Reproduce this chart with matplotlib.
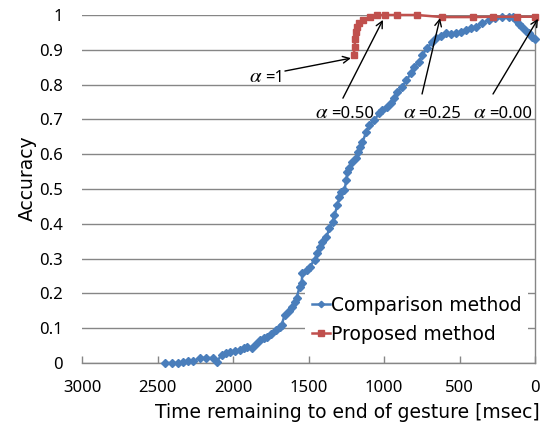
import matplotlib
matplotlib.use("Agg")
import matplotlib.pyplot as plt

plt.rcParams['font.family'] = ['DejaVu Sans']
plt.rcParams['mathtext.fontset'] = 'stix'

# Comparison method: accuracy vs. time remaining [msec]
comparison_time = [2452, 2405, 2366, 2333, 2300, 2267, 2220, 2181, 2134, 2108,
                   2075, 2049, 2022, 1989, 1956, 1930, 1910, 1877, 1850, 1824,
                   1797, 1778, 1751, 1718, 1692, 1678, 1658, 1632, 1612, 1592,
                   1579, 1559, 1546, 1540, 1513, 1493, 1460, 1441, 1427, 1408,
                   1381, 1361, 1341, 1328, 1308, 1295, 1282, 1262, 1249, 1242,
                   1229, 1209, 1183, 1170, 1156, 1143, 1117, 1097, 1064, 1031,
                   1011, 978, 952, 932, 912, 879, 852, 819, 800, 767,
                   747, 714, 681, 654, 621, 588, 555, 522, 489, 456,
                   423, 390, 350, 304, 264, 218, 172, 145, 126, 106,
                   86, 59, 40, 20, 0]
comparison_acc = [0.000, 0.000, 0.000, 0.003, 0.005, 0.005, 0.014, 0.015, 0.014, 0.004,
                  0.023, 0.028, 0.032, 0.035, 0.038, 0.043, 0.046, 0.044, 0.055, 0.066,
                  0.071, 0.075, 0.083, 0.095, 0.104, 0.109, 0.138, 0.150, 0.161, 0.175,
                  0.187, 0.218, 0.230, 0.258, 0.268, 0.276, 0.296, 0.316, 0.333, 0.348,
                  0.362, 0.388, 0.405, 0.425, 0.454, 0.477, 0.491, 0.497, 0.526, 0.549,
                  0.560, 0.578, 0.589, 0.606, 0.620, 0.635, 0.664, 0.684, 0.698, 0.718,
                  0.727, 0.736, 0.747, 0.761, 0.779, 0.793, 0.813, 0.833, 0.851, 0.865,
                  0.885, 0.905, 0.922, 0.934, 0.940, 0.948, 0.946, 0.948, 0.952, 0.957,
                  0.962, 0.966, 0.977, 0.986, 0.991, 0.994, 0.995, 0.993, 0.986, 0.975,
                  0.966, 0.955, 0.948, 0.938, 0.930]

# Proposed method
proposed_time = [1200, 1195, 1190, 1185, 1178, 1165, 1140, 1095, 1045, 995,
                 915, 780, 615, 410, 280, 120, 0]
proposed_acc = [0.885, 0.908, 0.932, 0.951, 0.966, 0.977, 0.986, 0.994, 0.999, 1.000,
                1.000, 1.000, 0.994, 0.994, 0.995, 0.995, 0.995]

y_ticks = [0, 0.1, 0.2, 0.3, 0.4, 0.5, 0.6, 0.7, 0.8, 0.9, 1]
y_tick_labels = ['0', '0.1', '0.2', '0.3', '0.4', '0.5', '0.6', '0.7', '0.8', '0.9', '1']
x_ticks = [3000, 2500, 2000, 1500, 1000, 500, 0]

# alpha annotations: value text, anchor (between symbol and value), arrow tail, arrow tip
alpha_values = ['=1', '=0.50', '=0.25', '=0.00']
alpha_anchor = [(1795, 0.8075), (1358, 0.704), (778, 0.704), (311, 0.704)]
alpha_tail = [(1656, 0.839), (1272, 0.761), (748, 0.773), (278, 0.773)]
alpha_tip = [(1219, 0.876), (1007, 0.986), (629, 0.991), (-20, 0.989)]

BLUE = '#4A7EBB'
RED = '#C0504D'
GRID = '#868686'
TICK_FONT = ['Noto Sans', 'DejaVu Sans']

fig = plt.figure(figsize=(5.49, 4.25), dpi=100)
ax = fig.add_axes([82 / 549, 62 / 425, 453 / 549, 348 / 425])

ax.plot(comparison_time, comparison_acc, color=BLUE, lw=1.8, marker='D',
        markersize=3.6, label='Comparison method', zorder=3, clip_on=False)
ax.plot(proposed_time, proposed_acc, color=RED, lw=1.8, marker='s',
        markersize=5, label='Proposed method', zorder=4, clip_on=False)

ax.set_xlim(3000, 0)
ax.set_ylim(0, 1)
ax.set_xticks(x_ticks)
ax.set_xticklabels([str(t) for t in x_ticks], family=TICK_FONT)
ax.set_yticks(y_ticks)
ax.set_yticklabels(y_tick_labels, family=TICK_FONT)

ax.grid(axis='y', color=GRID, lw=1.0)
ax.set_axisbelow(True)
for side in ['left', 'top']:
    ax.spines[side].set_visible(False)
for side in ['bottom', 'right']:
    ax.spines[side].set_color(GRID)
    ax.spines[side].set_linewidth(1.0)

ax.tick_params(axis='x', direction='in', length=5, width=1.0, color=GRID,
               labelsize=12, pad=12, top=False)
ax.tick_params(axis='y', length=0, labelsize=12, pad=14, right=False)

for val, anchor, tail, tip in zip(alpha_values, alpha_anchor, alpha_tail, alpha_tip):
    ax.annotate(r'$\alpha$', xy=anchor, xytext=(-1, 0), textcoords='offset points',
                ha='right', va='baseline', fontsize=15, zorder=6,
                annotation_clip=False)
    ax.annotate(val, xy=anchor, xytext=(0.5, 0), textcoords='offset points',
                ha='left', va='baseline', fontsize=12, family=TICK_FONT, zorder=6,
                annotation_clip=False)
    ax.annotate('', xy=tip, xytext=tail, annotation_clip=False, zorder=6,
                arrowprops=dict(arrowstyle='->', color='black', lw=1.0,
                                shrinkA=0, shrinkB=0, mutation_scale=12))

leg = ax.legend(loc='upper left', bbox_to_anchor=(0.4923, 0.2126), fontsize=13.5,
                frameon=True, fancybox=False, edgecolor='none', facecolor='white',
                framealpha=1, handlelength=1.0, handletextpad=0.05,
                labelspacing=0.54, numpoints=1, borderpad=0.35, borderaxespad=0,
                markerscale=0.9)
leg.set_zorder(5)

fig.text(347 / 549, (425 - 418) / 425, 'Time remaining to end of gesture [msec]',
         ha='center', va='baseline', fontsize=13.5)
fig.text(27 / 549, (425 - 178.5) / 425, 'Accuracy', ha='center', va='center',
         rotation=90, fontsize=13.5)

fig.savefig('out.png', dpi=100)
